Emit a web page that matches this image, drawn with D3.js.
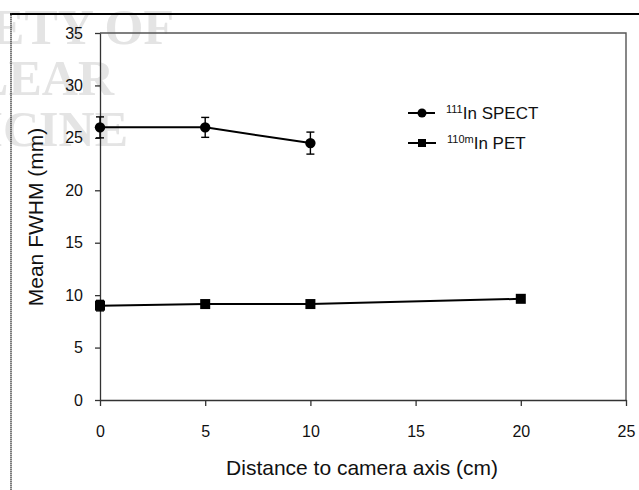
<!DOCTYPE html>
<html>
<head>
<meta charset="utf-8">
<script src="https://cdn.jsdelivr.net/npm/d3@7"></script>
<style>
  body { margin: 0; background: #fff; }
  svg { display: block; font-family: Arial, "Liberation Sans", sans-serif; }
  .axis text { font-size: 16px; fill: #111; }
  .axis path, .axis line { stroke: #333; stroke-width: 1.3; }
</style>
</head>
<body>
<div id="wrapper"></div>
<script>
// data
const distances = [0, 5, 10, 20];
const spectX = [0, 5, 10];
const spectFwhm = [26.0, 26.0, 24.5];
const spectErr = [1.0, 0.95, 1.05];
const petX = [0, 5, 10, 20];
const petFwhm = [9.0, 9.15, 9.15, 9.65];
const petErr = [0.5, 0.3, 0.25, 0.3];
const xTicks = [0, 5, 10, 15, 20, 25];
const yTicks = [0, 5, 10, 15, 20, 25, 30, 35];
const watermark = ["SOCIETY OF", "NUCLEAR", "MEDICINE"];

function drawChart() {
  const dimensions = {
    width: 639,
    height: 490,
    margin: { top: 33, right: 13, bottom: 90, left: 100 },
  };
  dimensions.boundedWidth = dimensions.width - dimensions.margin.left - dimensions.margin.right;
  dimensions.boundedHeight = dimensions.height - dimensions.margin.top - dimensions.margin.bottom;

  const wrapper = d3.select("#wrapper")
    .append("svg")
      .attr("width", dimensions.width)
      .attr("height", dimensions.height);

  // faint watermark left over from the scan
  wrapper.append("g")
    .selectAll("text")
    .data(watermark)
    .join("text")
      .attr("x", (d, i) => [174, 114, 128][i])
      .attr("y", (d, i) => 44 + i * 51)
      .attr("text-anchor", "end")
      .style("font-family", "'Liberation Serif', 'DejaVu Serif', serif")
      .style("font-weight", "bold")
      .style("font-size", "50px")
      .style("fill", "#e4e4e4")
      .text(d => d);

  // outer frame: thick top rule and a thin left rule
  wrapper.append("line")
      .attr("x1", 10).attr("x2", 639)
      .attr("y1", 14).attr("y2", 14)
      .attr("stroke", "#000").attr("stroke-width", 2.2);
  wrapper.append("line")
      .attr("x1", 11).attr("x2", 11)
      .attr("y1", 13).attr("y2", 490)
      .attr("stroke", "#222").attr("stroke-width", 1.2)
      .attr("stroke-dasharray", "1.5 0.5");

  const bounds = wrapper.append("g")
      .attr("transform", `translate(${dimensions.margin.left}, ${dimensions.margin.top})`);

  const xScale = d3.scaleLinear()
    .domain([0, 25])
    .range([0, dimensions.boundedWidth]);

  const yScale = d3.scaleLinear()
    .domain([0, 35])
    .range([dimensions.boundedHeight, 0]);

  // top and right edges of the plot box
  bounds.append("path")
      .attr("d", `M0,0H${dimensions.boundedWidth}V${dimensions.boundedHeight}`)
      .attr("fill", "none")
      .attr("stroke", "#555")
      .attr("stroke-width", 1.4);

  const yAxis = bounds.append("g")
      .attr("class", "axis y-axis")
      .call(d3.axisLeft(yScale).tickValues(yTicks).tickSize(5).tickPadding(12).tickSizeOuter(0));

  const xAxis = bounds.append("g")
      .attr("class", "axis x-axis")
      .attr("transform", `translate(0, ${dimensions.boundedHeight})`)
      .call(d3.axisBottom(xScale).tickValues(xTicks).tickSize(6).tickPadding(20).tickSizeOuter(0));

  // 5. Draw data
  const spect = spectX.map((x, i) => ({ x, y: spectFwhm[i], e: spectErr[i] }));
  const pet = petX.map((x, i) => ({ x, y: petFwhm[i], e: petErr[i] }));

  const lineGenerator = d3.line()
    .x(d => xScale(d.x))
    .y(d => yScale(d.y));

  const capHalf = 4;
  function drawErrors(data) {
    const g = bounds.append("g")
        .attr("stroke", "#000")
        .attr("stroke-width", 1.4);
    g.selectAll("line.bar")
      .data(data)
      .join("line")
        .attr("class", "bar")
        .attr("x1", d => xScale(d.x)).attr("x2", d => xScale(d.x))
        .attr("y1", d => yScale(d.y - d.e)).attr("y2", d => yScale(d.y + d.e));
    g.selectAll("line.top")
      .data(data)
      .join("line")
        .attr("class", "top")
        .attr("x1", d => xScale(d.x) - capHalf).attr("x2", d => xScale(d.x) + capHalf)
        .attr("y1", d => yScale(d.y + d.e)).attr("y2", d => yScale(d.y + d.e));
    g.selectAll("line.bottom")
      .data(data)
      .join("line")
        .attr("class", "bottom")
        .attr("x1", d => xScale(d.x) - capHalf).attr("x2", d => xScale(d.x) + capHalf)
        .attr("y1", d => yScale(d.y - d.e)).attr("y2", d => yScale(d.y - d.e));
  }

  drawErrors(spect);
  drawErrors(pet);

  bounds.append("path")
      .datum(spect)
      .attr("d", lineGenerator)
      .attr("fill", "none")
      .attr("stroke", "#000")
      .attr("stroke-width", 2);

  bounds.append("path")
      .datum(pet)
      .attr("d", lineGenerator)
      .attr("fill", "none")
      .attr("stroke", "#000")
      .attr("stroke-width", 2);

  bounds.selectAll("circle.spect")
    .data(spect)
    .join("circle")
      .attr("class", "spect")
      .attr("cx", d => xScale(d.x))
      .attr("cy", d => yScale(d.y))
      .attr("r", 5.2)
      .attr("fill", "#000");

  const sq = 10;
  bounds.selectAll("rect.pet")
    .data(pet)
    .join("rect")
      .attr("class", "pet")
      .attr("x", d => xScale(d.x) - sq / 2)
      .attr("y", d => yScale(d.y) - sq / 2)
      .attr("width", sq)
      .attr("height", sq)
      .attr("fill", "#000");

  // 6. Draw peripherals
  const legend = wrapper.append("g")
      .attr("transform", "translate(408, 113)");

  legend.append("line")
      .attr("x1", 0).attr("x2", 27).attr("y1", 0).attr("y2", 0)
      .attr("stroke", "#000").attr("stroke-width", 2);
  legend.append("circle")
      .attr("cx", 14).attr("cy", 0).attr("r", 4.5).attr("fill", "#000");
  const t1 = legend.append("text")
      .attr("x", 38).attr("y", 6)
      .style("font-size", "17px").style("fill", "#111");
  t1.append("tspan").attr("dy", -6).style("font-size", "11px").text("111");
  t1.append("tspan").attr("dy", 6).text("In SPECT");

  legend.append("line")
      .attr("x1", 0).attr("x2", 28).attr("y1", 30).attr("y2", 30)
      .attr("stroke", "#000").attr("stroke-width", 2);
  legend.append("rect")
      .attr("x", 10).attr("y", 26).attr("width", 8).attr("height", 8).attr("fill", "#000");
  const t2 = legend.append("text")
      .attr("x", 39).attr("y", 36)
      .style("font-size", "17px").style("fill", "#111");
  t2.append("tspan").attr("dy", -6).style("font-size", "11px").text("110m");
  t2.append("tspan").attr("dy", 6).text("In PET");

  wrapper.append("text")
      .attr("x", dimensions.margin.left + 262)
      .attr("y", 475)
      .attr("text-anchor", "middle")
      .style("font-size", "21px")
      .style("fill", "#111")
      .text("Distance to camera axis (cm)");

  wrapper.append("text")
      .attr("transform", "translate(43, 217) rotate(-90)")
      .attr("text-anchor", "middle")
      .style("font-size", "21px")
      .style("fill", "#111")
      .text("Mean FWHM (mm)");
}
drawChart();
</script>
</body>
</html>
